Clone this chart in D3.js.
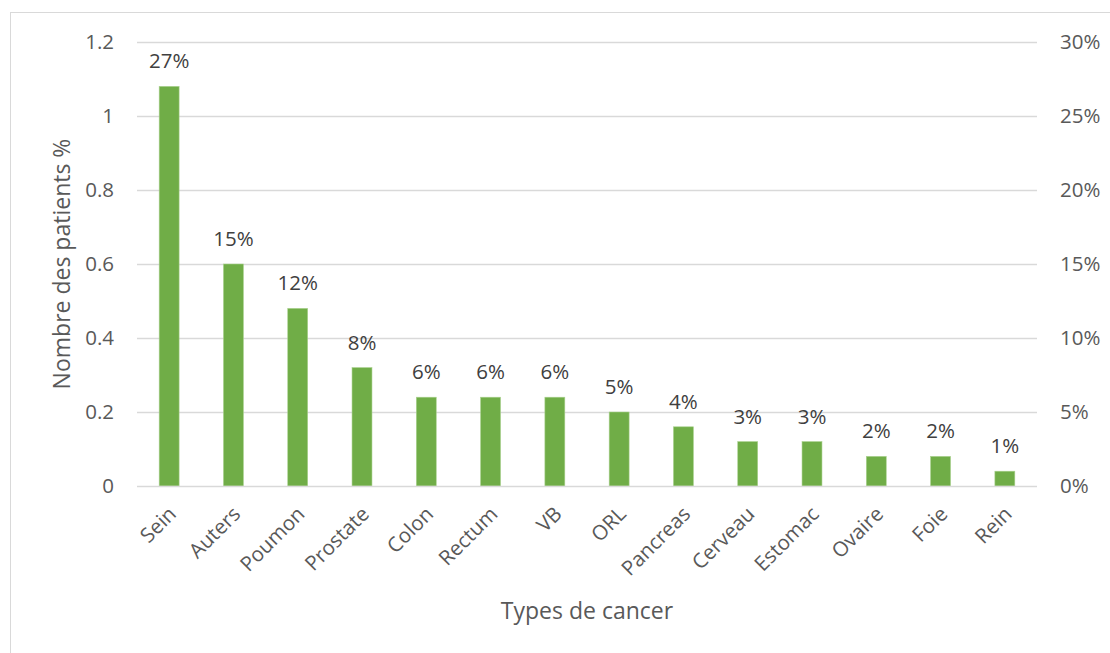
<!DOCTYPE html>
<html><head><meta charset="utf-8">
<script src="https://cdn.jsdelivr.net/npm/d3@7"></script>
<style>body{margin:0;background:#fff;} svg{display:block;}</style>
</head><body>
<script>
const categories = ["Sein","Auters","Poumon","Prostate","Colon","Rectum","VB","ORL","Pancreas","Cerveau","Estomac","Ovaire","Foie","Rein"];
const values = [1.08,0.6,0.48,0.32,0.24,0.24,0.24,0.2,0.16,0.12,0.12,0.08,0.08,0.04];
const percentLabels = ["27%","15%","12%","8%","6%","6%","6%","5%","4%","3%","3%","2%","2%","1%"];
const leftTicks = [0,0.2,0.4,0.6,0.8,1,1.2];
const rightTicks = [0,0.05,0.10,0.15,0.20,0.25,0.30];
const yTitle = "Nombre des patients %";
const xTitle = "Types de cancer";

const W = 1110, H = 653;
const m = {left:137, right:1037, top:42, bottom:486};
const font = "'Open Sans', 'Noto Sans', sans-serif";

const svg = d3.select("body").append("svg").attr("width",W).attr("height",H);
svg.append("rect").attr("x",10.5).attr("y",12.5).attr("width",1120).attr("height",700)
  .attr("fill","#fff").attr("stroke","#d9d9d9").attr("stroke-width",1);

const x = d3.scaleBand().domain(categories).range([m.left,m.right]).paddingInner(0.69).paddingOuter(0.345);
const y = d3.scaleLinear().domain([0,1.2]).range([m.bottom,m.top]);
const y2 = d3.scaleLinear().domain([0,0.3]).range([m.bottom,m.top]);

// gridlines
svg.append("g").selectAll("line").data(leftTicks.filter(d=>d>0)).join("line")
  .attr("x1",m.left).attr("x2",m.right).attr("y1",d=>Math.round(y(d))+0.5).attr("y2",d=>Math.round(y(d))+0.5)
  .attr("stroke","#d9d9d9").attr("stroke-width",1.5);

// left axis
const la = svg.append("g").attr("transform",`translate(${m.left},0)`)
  .call(d3.axisLeft(y).tickValues(leftTicks).tickSize(0).tickPadding(23).tickFormat(d=>d3.format("")(+d.toFixed(1))));
la.select(".domain").remove();
la.selectAll("text").attr("font-family",font).attr("font-size",20.5).attr("fill","#595959");

// right axis
const ra = svg.append("g").attr("transform",`translate(${m.right},0)`)
  .call(d3.axisRight(y2).tickValues(rightTicks).tickSize(0).tickPadding(23).tickFormat(d3.format(".0%")));
ra.select(".domain").remove();
ra.selectAll("text").attr("font-family",font).attr("font-size",20.5).attr("fill","#595959");

// bars
svg.append("g").selectAll("rect").data(values).join("rect")
  .attr("x",(d,i)=>x(categories[i])).attr("width",x.bandwidth())
  .attr("y",d=>y(d)).attr("height",d=>y(0)-y(d))
  .attr("fill","#70ad47").attr("stroke","#a9d18e").attr("stroke-width",0.6);

// baseline
svg.append("line").attr("x1",m.left).attr("x2",m.right).attr("y1",m.bottom+0.5).attr("y2",m.bottom+0.5)
  .attr("stroke","#d9d9d9").attr("stroke-width",1.5);

// data labels
svg.append("g").selectAll("text").data(values).join("text")
  .attr("x",(d,i)=>x(categories[i])+x.bandwidth()/2).attr("y",d=>y(d)-18)
  .attr("text-anchor","middle").attr("font-family",font).attr("font-size",20.5).attr("fill","#404040")
  .text((d,i)=>percentLabels[i]);

// category labels
svg.append("g").selectAll("text").data(categories).join("text")
  .attr("transform",d=>`translate(${x(d)+x.bandwidth()/2-2},${m.bottom+19}) rotate(-45)`)
  .attr("text-anchor","end").attr("dy","0.71em").attr("font-family",font).attr("font-size",20.5).attr("fill","#595959")
  .text(d=>d);

// titles
svg.append("text").attr("transform",`translate(70,${(m.top+m.bottom)/2}) rotate(-90)`)
  .attr("text-anchor","middle").attr("font-family",font).attr("font-size",23).attr("fill","#595959").text(yTitle);
svg.append("text").attr("x",587).attr("y",619).attr("text-anchor","middle")
  .attr("font-family",font).attr("font-size",23).attr("fill","#595959").text(xTitle);
</script>
</body></html>
